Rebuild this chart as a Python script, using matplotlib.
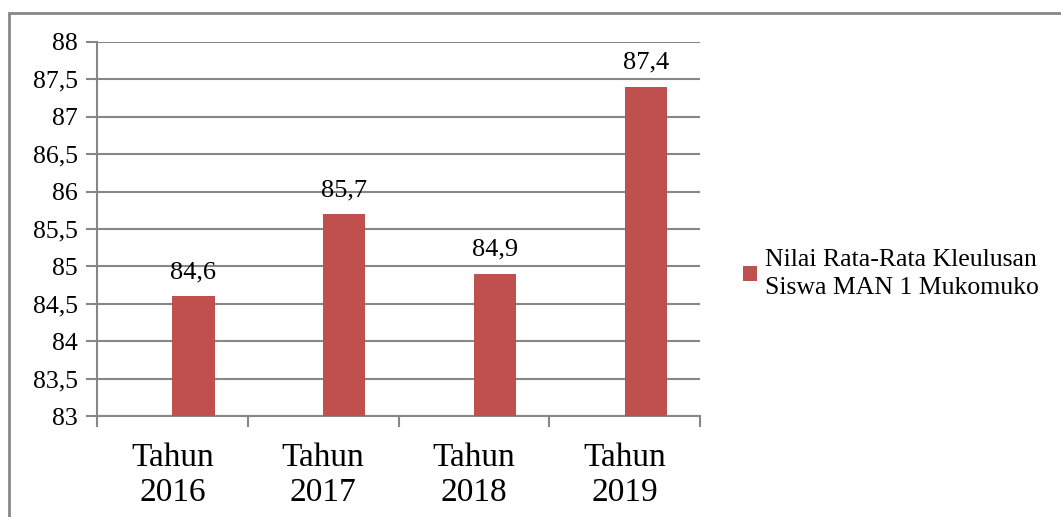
import matplotlib.pyplot as plt
from matplotlib.patches import Rectangle
from matplotlib.ticker import FuncFormatter, FixedLocator

plt.rcParams['font.family'] = ['Liberation Serif', 'DejaVu Serif']

categories = ['Tahun\n2016', 'Tahun\n2017', 'Tahun\n2018', 'Tahun\n2019']
values = [84.6, 85.7, 84.9, 87.4]
value_labels = ['84,6', '85,7', '84,9', '87,4']
series_name = 'Nilai Rata-Rata Kleulusan\nSiswa MAN 1 Mukomuko'

bar_color = '#C0504D'
line_color = '#878787'

fig = plt.figure(figsize=(10.61, 5.17), dpi=100)
W, H = 1061, 517
ax = fig.add_axes([97 / W, 1 - 416 / H, (700 - 97) / W, (416 - 42) / H])

# outer frame
fig.patches.append(Rectangle((9 / W, -0.05), 1.1, 1 - 13 / H + 0.05, transform=fig.transFigure,
                             fill=False, edgecolor=line_color, linewidth=2))

x = list(range(len(categories)))
bars = ax.bar(x, [v - 83 for v in values], bottom=83, width=0.28, align='edge',
              color=bar_color, label=series_name, zorder=3)

for b, lab in zip(bars, value_labels):
    ax.annotate(lab, (b.get_x() + b.get_width() / 2, b.get_y() + b.get_height()),
                xytext=(0, 13), textcoords='offset points', ha='center', va='baseline',
                fontsize=19)

ax.set_xlim(-0.5, 3.5)
ax.set_ylim(83, 88)
ax.set_yticks([83 + 0.5 * i for i in range(11)])
ax.yaxis.set_major_formatter(FuncFormatter(lambda v, p: ('%g' % v).replace('.', ',')))
ax.yaxis.grid(True, color=line_color, linewidth=1.5, zorder=0)
ax.tick_params(axis='y', length=8, width=1.5, color=line_color, labelsize=18.5, pad=6)

# category labels at centers, tick marks at boundaries
ax.xaxis.set_major_locator(FixedLocator([-0.5, 0.5, 1.5, 2.5, 3.5]))
ax.xaxis.set_major_formatter(FuncFormatter(lambda v, p: ''))
ax.xaxis.set_minor_locator(FixedLocator(x))
ax.set_xticklabels(categories, minor=True)
ax.tick_params(axis='x', which='major', length=8, width=1.5, color=line_color)
ax.tick_params(axis='x', which='minor', length=0, labelsize=24, pad=19)
for t in ax.xaxis.get_minorticklabels():
    t.set_linespacing(1.2)

for s in ['top', 'right']:
    ax.spines[s].set_visible(False)
for s in ['left', 'bottom']:
    ax.spines[s].set_color(line_color)
    ax.spines[s].set_linewidth(1.5)

leg = ax.legend(loc='center left', bbox_to_anchor=(720 / W, 1 - 274 / H),
                bbox_transform=fig.transFigure, frameon=False, fontsize=18.5,
                handlelength=0.55, handleheight=0.55, handletextpad=0.3)
for t in leg.get_texts():
    t.set_linespacing(1.3)

fig.savefig('out.png', dpi=100)
